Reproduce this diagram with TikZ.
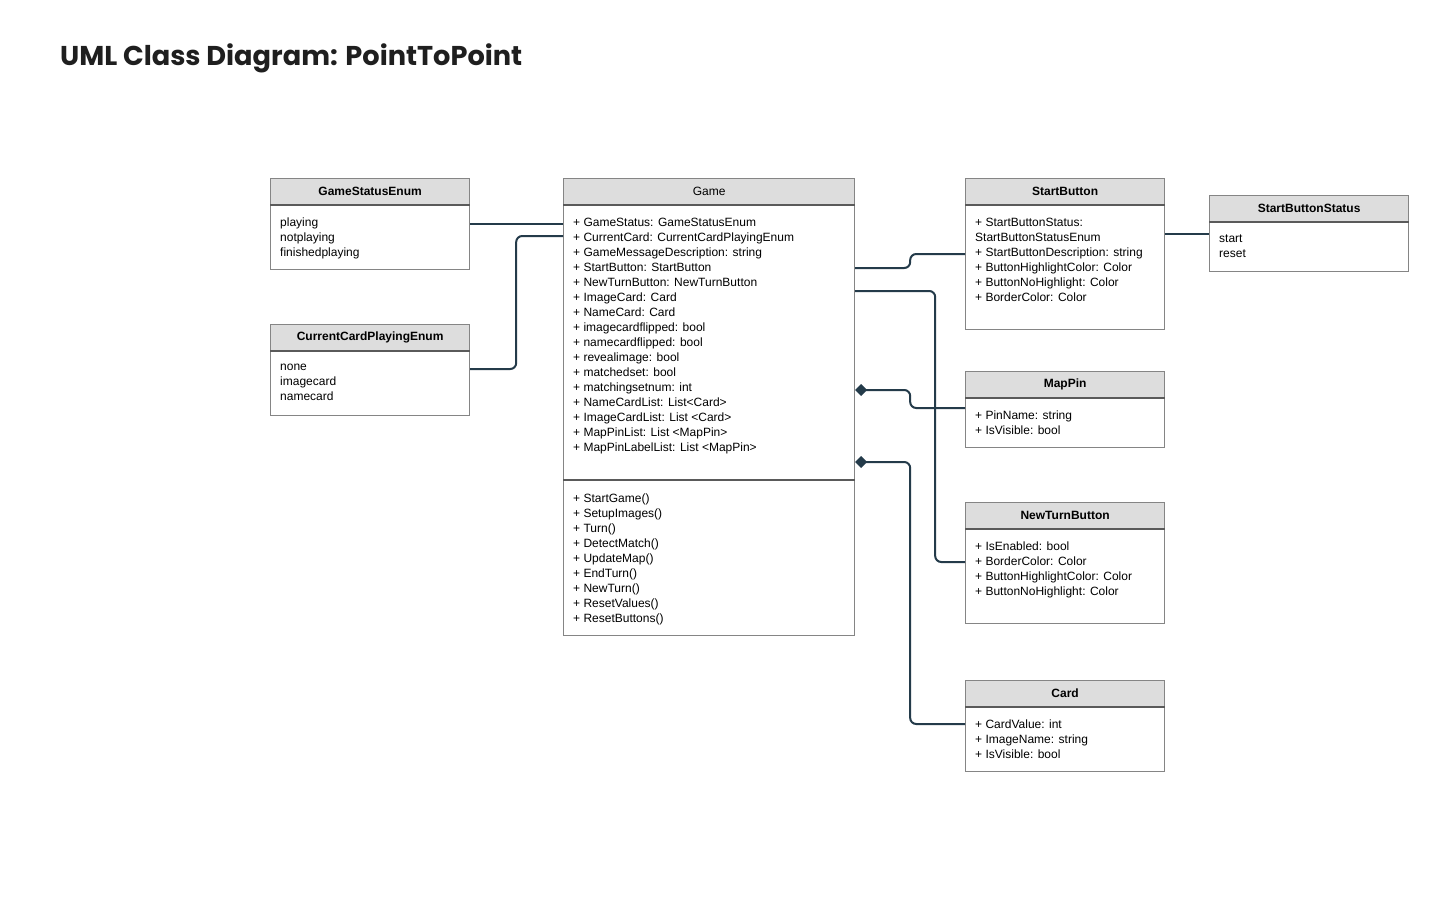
\documentclass[tikz,border=0pt]{standalone}
\usepackage{fontspec}
\setmainfont{Liberation Sans}
\newfontfamily\titlefont{Poppins}
\usetikzlibrary{arrows.meta,positioning}

\definecolor{headfill}{HTML}{DDDDDD}
\definecolor{boxline}{HTML}{858585}
\definecolor{sepline}{HTML}{5A5A5A}
\definecolor{linkcol}{HTML}{243B4A}

\begin{document}
\begin{tikzpicture}[x = 1pt, y = -1pt,
  head/.style = {draw = boxline, fill = headfill, line width = 1.2pt,
    minimum width = 199pt, minimum height = 26pt, anchor = north west,
    inner sep = 0pt, font = \fontsize{12}{15}\selectfont\bfseries},
  body/.style = {draw = boxline, line width = 1.2pt, minimum width = 199pt,
    anchor = north west, inner sep = 0pt},
  members/.style = {anchor = north west, align = left, inner xsep = 10pt,
    inner ysep = 0pt, font = \fontsize{12}{15}\selectfont},
  sep/.style = {draw = sepline, line width = 1.6pt},
  link/.style = {draw = linkcol, line width = 2pt, rounded corners = 6pt}]

  \useasboundingbox (0, 0) rectangle (1440, 900);

  \node[anchor = west, inner sep = 0pt, font = \titlefont\bfseries\fontsize{27.2}{31}\selectfont,
    text = black!88] (title) at (60, 58) {UML Class Diagram: PointToPoint};

  % enums on the left
  \node[head] (gse) at (270, 178) {GameStatusEnum};
  \node[body, minimum height = 65pt] (gseBody) at (270, 204) {};
  \node[members] (gseText) at ([yshift = -13.5pt]gseBody.north west)
    {playing\\notplaying\\finishedplaying};
  \draw[sep] (gse.south west) -- (gse.south east);

  \node[head] (ccpe) at (270, 324) {CurrentCardPlayingEnum};
  \node[body, minimum height = 65pt] (ccpeBody) at (270, 350) {};
  \node[members] (ccpeText) at ([yshift = -13.5pt]ccpeBody.north west)
    {none\\imagecard\\namecard};
  \draw[sep] (ccpe.south west) -- (ccpe.south east);

  % main class
  \node[head, minimum width = 291pt, font = \fontsize{12}{15}\selectfont] (game) at (563, 178) {Game};
  \node[body, minimum width = 291pt, minimum height = 431pt] (gameBody) at (563, 204) {};
  \node[members] (gameAttr) at ([yshift = -13.5pt]gameBody.north west)
    {+ GameStatus: GameStatusEnum\\
     + CurrentCard: CurrentCardPlayingEnum\\
     + GameMessageDescription: string\\
     + StartButton: StartButton\\
     + NewTurnButton: NewTurnButton\\
     + ImageCard: Card\\
     + NameCard: Card\\
     + imagecardflipped: bool\\
     + namecardflipped: bool\\
     + revealimage: bool\\
     + matchedset: bool\\
     + matchingsetnum: int\\
     + NameCardList: List<Card>\\
     + ImageCardList: List <Card>\\
     + MapPinList: List <MapPin>\\
     + MapPinLabelList: List <MapPin>};
  \coordinate (gameDiv) at ([yshift = -276pt]gameBody.north west);
  \node[members] (gameOps) at ([yshift = -13.5pt]gameDiv)
    {+ StartGame()\\
     + SetupImages()\\
     + Turn()\\
     + DetectMatch()\\
     + UpdateMap()\\
     + EndTurn()\\
     + NewTurn()\\
     + ResetValues()\\
     + ResetButtons()};
  \draw[sep] (game.south west) -- (game.south east);
  \draw[sep] (gameDiv) -- (gameDiv -| gameBody.east);

  % classes on the right
  \node[head] (sb) at (965, 178) {StartButton};
  \node[body, minimum height = 125pt] (sbBody) at (965, 204) {};
  \node[members] (sbText) at ([yshift = -13.5pt]sbBody.north west)
    {+ StartButtonStatus:\\
     StartButtonStatusEnum\\
     + StartButtonDescription: string\\
     + ButtonHighlightColor: Color\\
     + ButtonNoHighlight: Color\\
     + BorderColor: Color};
  \draw[sep] (sb.south west) -- (sb.south east);

  \node[head] (sbs) at (1209, 195) {StartButtonStatus};
  \node[body, minimum height = 50pt] (sbsBody) at (1209, 221) {};
  \node[members] (sbsText) at ([yshift = -13.5pt]sbsBody.north west)
    {start\\reset};
  \draw[sep] (sbs.south west) -- (sbs.south east);

  \node[head] (mappin) at (965, 371) {MapPin};
  \node[body, minimum height = 50pt] (mappinBody) at (965, 397) {};
  \node[members] (mappinText) at ([yshift = -13.5pt]mappinBody.north west)
    {+ PinName: string\\+ IsVisible: bool};
  \draw[sep] (mappin.south west) -- (mappin.south east);

  \node[head] (ntb) at (965, 502) {NewTurnButton};
  \node[body, minimum height = 95pt] (ntbBody) at (965, 528) {};
  \node[members] (ntbText) at ([yshift = -13.5pt]ntbBody.north west)
    {+ IsEnabled: bool\\
     + BorderColor: Color\\
     + ButtonHighlightColor: Color\\
     + ButtonNoHighlight: Color};
  \draw[sep] (ntb.south west) -- (ntb.south east);

  \node[head] (card) at (965, 680) {Card};
  \node[body, minimum height = 65pt] (cardBody) at (965, 706) {};
  \node[members] (cardText) at ([yshift = -13.5pt]cardBody.north west)
    {+ CardValue: int\\+ ImageName: string\\+ IsVisible: bool};
  \draw[sep] (card.south west) -- (card.south east);

  % links
  \draw[link] ([yshift = -20pt]gseBody.north east) -- ([yshift = -20pt]gameBody.north west);
  \draw[link] ([yshift = -19pt]ccpeBody.north east) -- ++(46, 0)
    |- ([yshift = -32pt]gameBody.north west);
  \draw[link] ([yshift = -64pt]gameBody.north east) -- ++(55, 0)
    |- ([yshift = -50pt]sbBody.north west);
  \draw[link] ([yshift = -87pt]gameBody.north east) -- ++(80, 0)
    |- ([yshift = -34pt]ntbBody.north west);
  \draw[link, {Diamond[length = 12pt, width = 12pt]}-] ([yshift = -186pt]gameBody.north east)
    -- ++(55, 0) |- ([yshift = -11pt]mappinBody.north west);
  \draw[link, {Diamond[length = 12pt, width = 12pt]}-] ([yshift = -258pt]gameBody.north east)
    -- ++(55, 0) |- ([yshift = -18pt]cardBody.north west);
  \draw[link] ([yshift = -30pt]sbBody.north east) -- ([yshift = -13pt]sbsBody.north west);

\end{tikzpicture}
\end{document}
